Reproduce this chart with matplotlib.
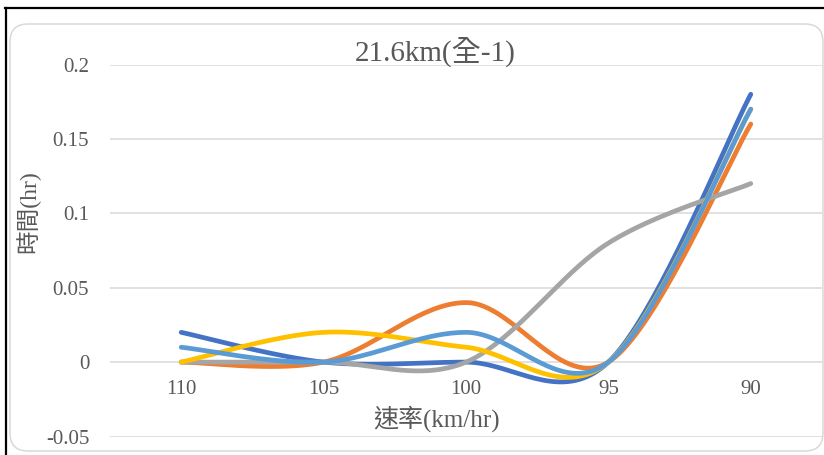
import matplotlib
matplotlib.use("Agg")
import matplotlib.pyplot as plt
import numpy as np
from matplotlib.patches import FancyBboxPatch
from matplotlib.lines import Line2D
from matplotlib.transforms import IdentityTransform

# data
speeds = ["110", "105", "100", "95", "90"]
s1 = [0.02, 0.0, 0.0, 0.0, 0.18]
s2 = [0.0, 0.0, 0.04, 0.0, 0.16]
s3 = [0.0, 0.0, 0.0, 0.08, 0.12]
s4 = [0.0, 0.02, 0.01, 0.0, 0.17]
s5 = [0.01, 0.0, 0.02, 0.0, 0.17]
series = [s1, s2, s3, s4, s5]
colors = ["#4472C4", "#ED7D31", "#A5A5A5", "#FFC000", "#5B9BD5"]

title = "21.6km(全-1)"
xlabel = "速率(km/hr)"
ylabel = "時間(hr)"
yticks = [-0.05, 0, 0.05, 0.1, 0.15, 0.2]
ytick_labels = ["-0.05", "0", "0.05", "0.1", "0.15", "0.2"]

TXT = "#595959"
FONT = ["Liberation Serif", "Noto Sans CJK TC", "DejaVu Sans"]
plt.rcParams["font.family"] = FONT

W, H = 824, 455


def smooth(x, y, n=40):
    # Excel-style smoothed line: cubic Bezier with Catmull-Rom control points
    x = np.asarray(x, float); y = np.asarray(y, float)
    px = np.concatenate([[x[0]], x, [x[-1]]])
    py = np.concatenate([[y[0]], y, [y[-1]]])
    xs, ys = [], []
    t = np.linspace(0, 1, n)
    for i in range(len(x) - 1):
        p0 = np.array([x[i], y[i]]); p3 = np.array([x[i + 1], y[i + 1]])
        p1 = p0 + (np.array([px[i + 2], py[i + 2]]) - np.array([px[i], py[i]])) / 6
        p2 = p3 - (np.array([px[i + 3], py[i + 3]]) - np.array([px[i + 1], py[i + 1]])) / 6
        b = ((1 - t) ** 3)[:, None] * p0 + (3 * (1 - t) ** 2 * t)[:, None] * p1 \
            + (3 * (1 - t) * t ** 2)[:, None] * p2 + (t ** 3)[:, None] * p3
        xs.append(b[:, 0]); ys.append(b[:, 1])
    return np.concatenate(xs), np.concatenate(ys)


fig = plt.figure(figsize=(W / 100, H / 100), dpi=100)
fig.patch.set_facecolor("white")

# outer frame bits (black edges of the screenshot) and rounded chart border
fig.add_artist(Line2D([5, W], [H - 7.5, H - 7.5], color="black", lw=1.6,
                      transform=IdentityTransform()))
fig.add_artist(Line2D([5.5, 5.5], [0, H - 7.5], color="black", lw=1.6,
                      transform=IdentityTransform()))
fig.add_artist(FancyBboxPatch((10, 4), 813, 427, boxstyle="round,pad=0,rounding_size=18",
                              fc="none", ec="#D9D9D9", lw=1.1, transform=IdentityTransform()))

left, right = 110 / W, 822 / W
bottom, top = 1 - 436.5 / H, 1 - 64.5 / H
ax = fig.add_axes([left, bottom, right - left, top - bottom])
ax.set_facecolor("none")

idx = np.arange(len(speeds))
for y, c in zip(series, colors):
    sx, sy = smooth(idx, y)
    ax.plot(sx, sy, color=c, lw=3.4, solid_capstyle="round", zorder=3)

ax.set_xlim(-0.5, len(speeds) - 0.5)
ax.set_ylim(-0.05, 0.2)
ax.set_yticks(yticks)
ax.set_yticklabels(ytick_labels)
ax.yaxis.grid(True, color="#D9D9D9", lw=1.1)
ax.set_axisbelow(True)
for s in ax.spines.values():
    s.set_visible(False)
ax.spines["bottom"].set_position(("data", 0))
ax.set_xticks(idx)
ax.set_xticklabels(speeds)
ax.tick_params(axis="y", length=0, pad=15, labelsize=15, labelcolor=TXT)
ax.tick_params(axis="x", length=0, pad=13, labelsize=15, labelcolor=TXT)

fig.text(435 / W, 1 - 52 / H, title, ha="center", va="center", fontsize=21, color=TXT)
fig.text(437 / W, 1 - 419 / H, xlabel, ha="center", va="center", fontsize=18, color=TXT)
fig.text(28 / W, 1 - 212 / H, ylabel, ha="center", va="center", rotation=90,
         fontsize=17, color=TXT)

fig.savefig("out.png", dpi=100)
